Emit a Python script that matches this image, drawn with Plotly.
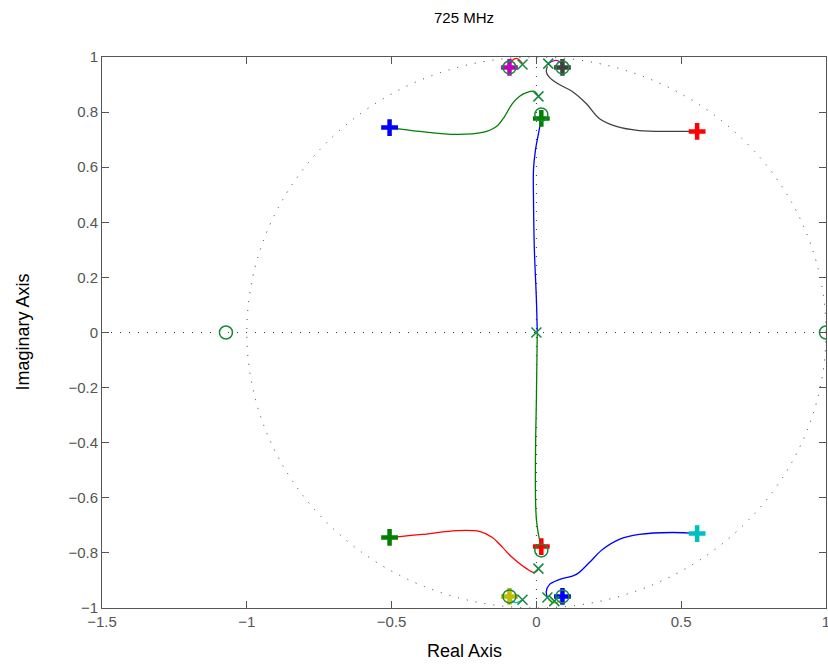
import plotly.graph_objects as go

# ---- data ----
green_up_x = [-0.507, -0.403, -0.276, -0.186, -0.138, -0.110, -0.083, -0.059, -0.034, -0.007, 0.007]
green_up_y = [0.744, 0.730, 0.719, 0.726, 0.748, 0.784, 0.831, 0.857, 0.871, 0.875, 0.857]

blue_up_x = [0.017, 0.010, -0.003, -0.010, -0.010, -0.007, 0.0, 0.003]
blue_up_y = [0.777, 0.737, 0.664, 0.592, 0.483, 0.301, 0.120, 0.0]

green_lo_x = [0.003, 0.0, -0.003, -0.003, 0.0, 0.007, 0.017]
green_lo_y = [0.0, -0.243, -0.425, -0.606, -0.679, -0.733, -0.777]

red_lo_x = [-0.507, -0.393, -0.276, -0.197, -0.152, -0.117, -0.083, -0.034, -0.007, 0.007]
red_lo_y = [-0.744, -0.733, -0.719, -0.722, -0.744, -0.780, -0.817, -0.857, -0.871, -0.860]

black_up_x = [0.555, 0.469, 0.355, 0.276, 0.217, 0.172, 0.124, 0.079, 0.045, 0.034, 0.038]
black_up_y = [0.730, 0.730, 0.733, 0.748, 0.777, 0.831, 0.875, 0.900, 0.926, 0.947, 0.966]

blue_lo_x = [0.555, 0.469, 0.355, 0.286, 0.228, 0.183, 0.138, 0.079, 0.045, 0.034, 0.038]
blue_lo_y = [-0.730, -0.726, -0.733, -0.751, -0.788, -0.835, -0.878, -0.897, -0.915, -0.940, -0.962]

red_arc_x = [-0.093, -0.086, -0.069, -0.048]
red_arc_y = [0.962, 0.984, 0.995, 0.977]
mag_arc_x = [0.041, 0.062, 0.079, 0.090]
mag_arc_y = [0.976, 0.987, 0.984, 0.962]
cyan_arc_x = [-0.093, -0.083, -0.066, -0.048]
cyan_arc_y = [-0.958, -0.976, -0.980, -0.969]
olive_arc_x = [0.041, 0.055, 0.072, 0.090]
olive_arc_y = [-0.969, -0.980, -0.980, -0.962]

pole_x = [0.0, 0.007, 0.007, -0.048, 0.041, -0.048, 0.038, 0.062]
pole_y = [0.0, 0.857, -0.857, 0.973, 0.976, -0.970, -0.962, -0.975]

zero_x = [-1.072, 1.0, 0.017, 0.017, -0.093, 0.090, -0.093, 0.090]
zero_y = [0.0, 0.0, 0.791, -0.791, 0.962, 0.962, -0.958, -0.958]

end_x = [-0.507, 0.017, 0.555, -0.093, 0.090, -0.507, 0.017, 0.555, -0.093, 0.090]
end_y = [0.744, 0.777, 0.730, 0.962, 0.962, -0.744, -0.777, -0.730, -0.958, -0.958]
end_c = ["#0000ff", "#008000", "#ff0000", "#bf00bf", "#404040",
         "#008000", "#ff0000", "#00bfbf", "#bfbf00", "#0000ff"]

x_ticks = [-1.5, -1, -0.5, 0, 0.5, 1]
y_ticks = [-1, -0.8, -0.6, -0.4, -0.2, 0, 0.2, 0.4, 0.6, 0.8, 1]

title_text = "725 MHz"
pz_color = "#148a3c"

fig = go.Figure()

branches = [
    (green_up_x, green_up_y, "#008000"),
    (blue_up_x, blue_up_y, "#0000ff"),
    (green_lo_x, green_lo_y, "#008000"),
    (red_lo_x, red_lo_y, "#ff0000"),
    (black_up_x, black_up_y, "#404040"),
    (blue_lo_x, blue_lo_y, "#0000ff"),
    (red_arc_x, red_arc_y, "#ff0000"),
    (mag_arc_x, mag_arc_y, "#bf00bf"),
    (cyan_arc_x, cyan_arc_y, "#00bfbf"),
    (olive_arc_x, olive_arc_y, "#bfbf00"),
]
for bx, by, c in branches:
    fig.add_trace(go.Scatter(x=bx, y=by, mode="lines", line=dict(color=c, width=1.3, shape="spline"),
                             showlegend=False, hoverinfo="skip"))

fig.add_trace(go.Scatter(x=end_x, y=end_y, mode="markers",
                         marker=dict(symbol="cross-thin-open", size=12, color=end_c,
                                     line=dict(color=end_c, width=4.5)),
                         showlegend=False))
fig.add_trace(go.Scatter(x=zero_x, y=zero_y, mode="markers",
                         marker=dict(symbol="circle-open", size=13, color=pz_color,
                                     line=dict(color=pz_color, width=1.5)),
                         showlegend=False, cliponaxis=True))
fig.add_trace(go.Scatter(x=pole_x, y=pole_y, mode="markers",
                         marker=dict(symbol="x-thin-open", size=10, color=pz_color,
                                     line=dict(color=pz_color, width=1.5)),
                         showlegend=False))

dot = "1px,8px"
fig.add_shape(type="circle", x0=-1, x1=1, y0=-1, y1=1, xref="x", yref="y",
              line=dict(color="#333", width=1, dash=dot), layer="below")
fig.add_shape(type="line", x0=-1.5, x1=1, y0=0, y1=0, xref="x", yref="y",
              line=dict(color="#333", width=1, dash=dot), layer="below")
fig.add_shape(type="line", x0=0, x1=0, y0=-1, y1=1, xref="x", yref="y",
              line=dict(color="#333", width=1, dash=dot), layer="below")

axis_common = dict(showgrid=False, zeroline=False, showline=True, linecolor="#555", linewidth=1,
                   mirror="ticks", ticks="inside", ticklen=7, tickcolor="#555", tickwidth=1,
                   automargin=False, ticklabeloverflow="allow",
                   tickfont=dict(family="Liberation Sans, Arial, sans-serif", size=15, color="#555"))

fig.update_xaxes(range=[-1.5, 1], tickvals=x_ticks, ticktext=[f"{v:g}".replace("-", "\u2212") for v in x_ticks],
                 **axis_common)
fig.update_yaxes(range=[-1, 1], tickvals=y_ticks, ticktext=[f"{v:g}".replace("-", "\u2212") for v in y_ticks],
                 **axis_common)

fig.update_layout(
    width=828, height=666,
    margin=dict(l=102, r=2, t=57, b=58, autoexpand=False),
    plot_bgcolor="white", paper_bgcolor="white",
    font=dict(family="Liberation Sans, Arial, sans-serif", color="black"),
    annotations=[
        dict(text=title_text, xref="paper", yref="paper", x=0.5, y=1, yanchor="middle",
             yshift=40, showarrow=False, font=dict(size=15, color="black")),
        dict(text="Real Axis", xref="paper", yref="paper", x=0.5, y=0, yanchor="middle",
             yshift=-43, showarrow=False, font=dict(size=18, color="black")),
        dict(text="Imaginary Axis", xref="paper", yref="paper", x=0, y=0.5, xanchor="center",
             xshift=-80, textangle=-90, showarrow=False, font=dict(size=18, color="black")),
    ],
)

fig.write_html("out.html", config={"displayModeBar": False},
               post_script="document.body.style.margin='0';document.body.style.overflow='hidden';")
